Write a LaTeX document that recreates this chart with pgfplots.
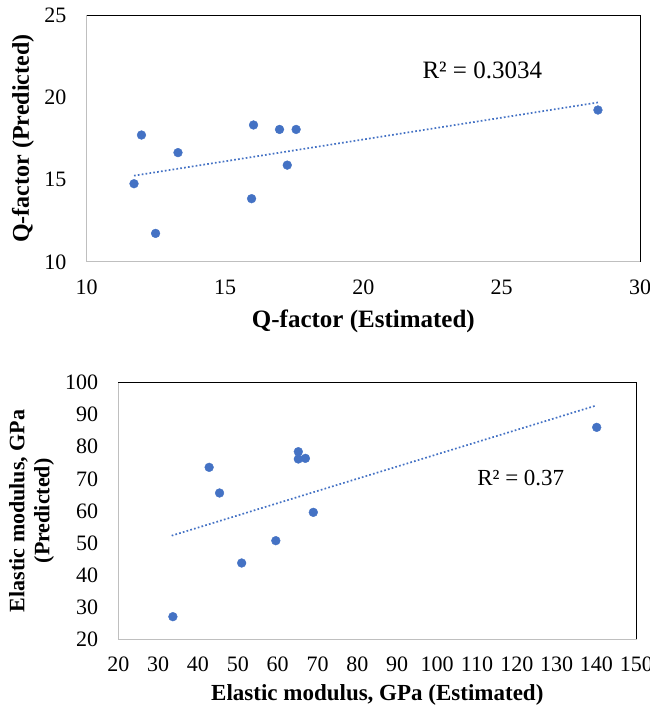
\documentclass[border=0pt]{standalone}
\usepackage{fontspec}
\setmainfont{Liberation Serif}
\usepackage{pgfplots}
\pgfplotsset{compat=1.18}
\definecolor{xlblue}{RGB}{68,114,196}
\definecolor{frame}{RGB}{191,191,191}

\pgfplotsset{
  scatterbox/.style={
    scale only axis, anchor=south west, clip=false,
    axis line style={frame, line width=1pt},
    major tick length=0pt, tick style={draw=none},
    tick label style={font=\fontsize{22}{26}\selectfont},
    /pgf/number format/assume math mode=true,
    xticklabel style={anchor=north, inner sep=0pt, yshift=-18pt},
    yticklabel style={anchor=east, inner sep=0pt, xshift=-20pt},
  },
  dots/.style={only marks, mark=*, mark size=4.4pt,
    mark options={draw=xlblue, fill=xlblue}},
  trend/.style={xlblue, line width=1.7pt, dash pattern=on 1.7pt off 2.2pt},
}

\begin{document}
\begin{tikzpicture}
\useasboundingbox (0,0) rectangle (650pt,707pt);

% top: Q-factor
\begin{axis}[scatterbox,
  at={(86.7pt,445pt)}, width=553.3pt, height=246.7pt,
  xmin=10, xmax=30, ymin=10, ymax=25,
  xtick={10,15,20,25,30}, ytick={10,15,20,25},
  xlabel={Q-factor (Estimated)},
  ylabel={Q-factor (Predicted)},
  xlabel style={at={([yshift=-59.7pt]axis description cs:0.5,0)}, anchor=center,
    font=\fontsize{25}{28}\selectfont\bfseries},
  ylabel style={at={([xshift=-63.7pt]axis description cs:0,0.5)}, anchor=center,
    font=\fontsize{24}{27}\selectfont\bfseries},
]
\addplot[dots] coordinates {
(11.71,14.76)(11.98,17.72)(12.49,11.74)(13.30,16.65)(15.96,13.85)
(16.03,18.33)(16.97,18.06)(17.25,15.89)(17.57,18.06)(28.48,19.24)};
\addplot[trend] coordinates {(11.71,15.25)(28.48,19.70)};
\node[font=\fontsize{25}{28}\selectfont] at (axis cs:24.3,21.68) {R² = 0.3034};
\draw[black, line width=1pt] (rel axis cs:0,1) -- (rel axis cs:1,1) -- (rel axis cs:1,0);
\end{axis}

% bottom: elastic modulus
\begin{axis}[scatterbox,
  at={(118.3pt,68pt)}, width=518pt, height=256.3pt,
  xmin=20, xmax=150, ymin=20, ymax=100,
  xtick={20,30,...,150}, ytick={20,30,...,100},
  xlabel={Elastic modulus, GPa (Estimated)},
  ylabel={Elastic modulus, GPa\\(Predicted)},
  xlabel style={at={([yshift=-56pt]axis description cs:0.5,0)}, anchor=center,
    font=\fontsize{23}{26}\selectfont\bfseries},
  ylabel style={at={([xshift=-86.8pt]axis description cs:0,0.5)}, anchor=center,
    align=center, font=\fontsize{22}{25}\selectfont\bfseries},
]
\addplot[dots] coordinates {
(33.70,26.97)(42.80,73.58)(45.41,65.57)(50.96,43.72)(59.53,50.69)
(65.18,78.47)(65.18,76.18)(66.96,76.39)(68.94,59.53)(140.06,86.06)};
\addplot[trend] coordinates {(33.39,52.25)(140.06,92.93)};
\node[font=\fontsize{23}{26}\selectfont] at (axis cs:121.0,70.1) {R² = 0.37};
\draw[black, line width=1pt] (rel axis cs:0,1) -- (rel axis cs:1,1) -- (rel axis cs:1,0);
\end{axis}
\end{tikzpicture}
\end{document}
